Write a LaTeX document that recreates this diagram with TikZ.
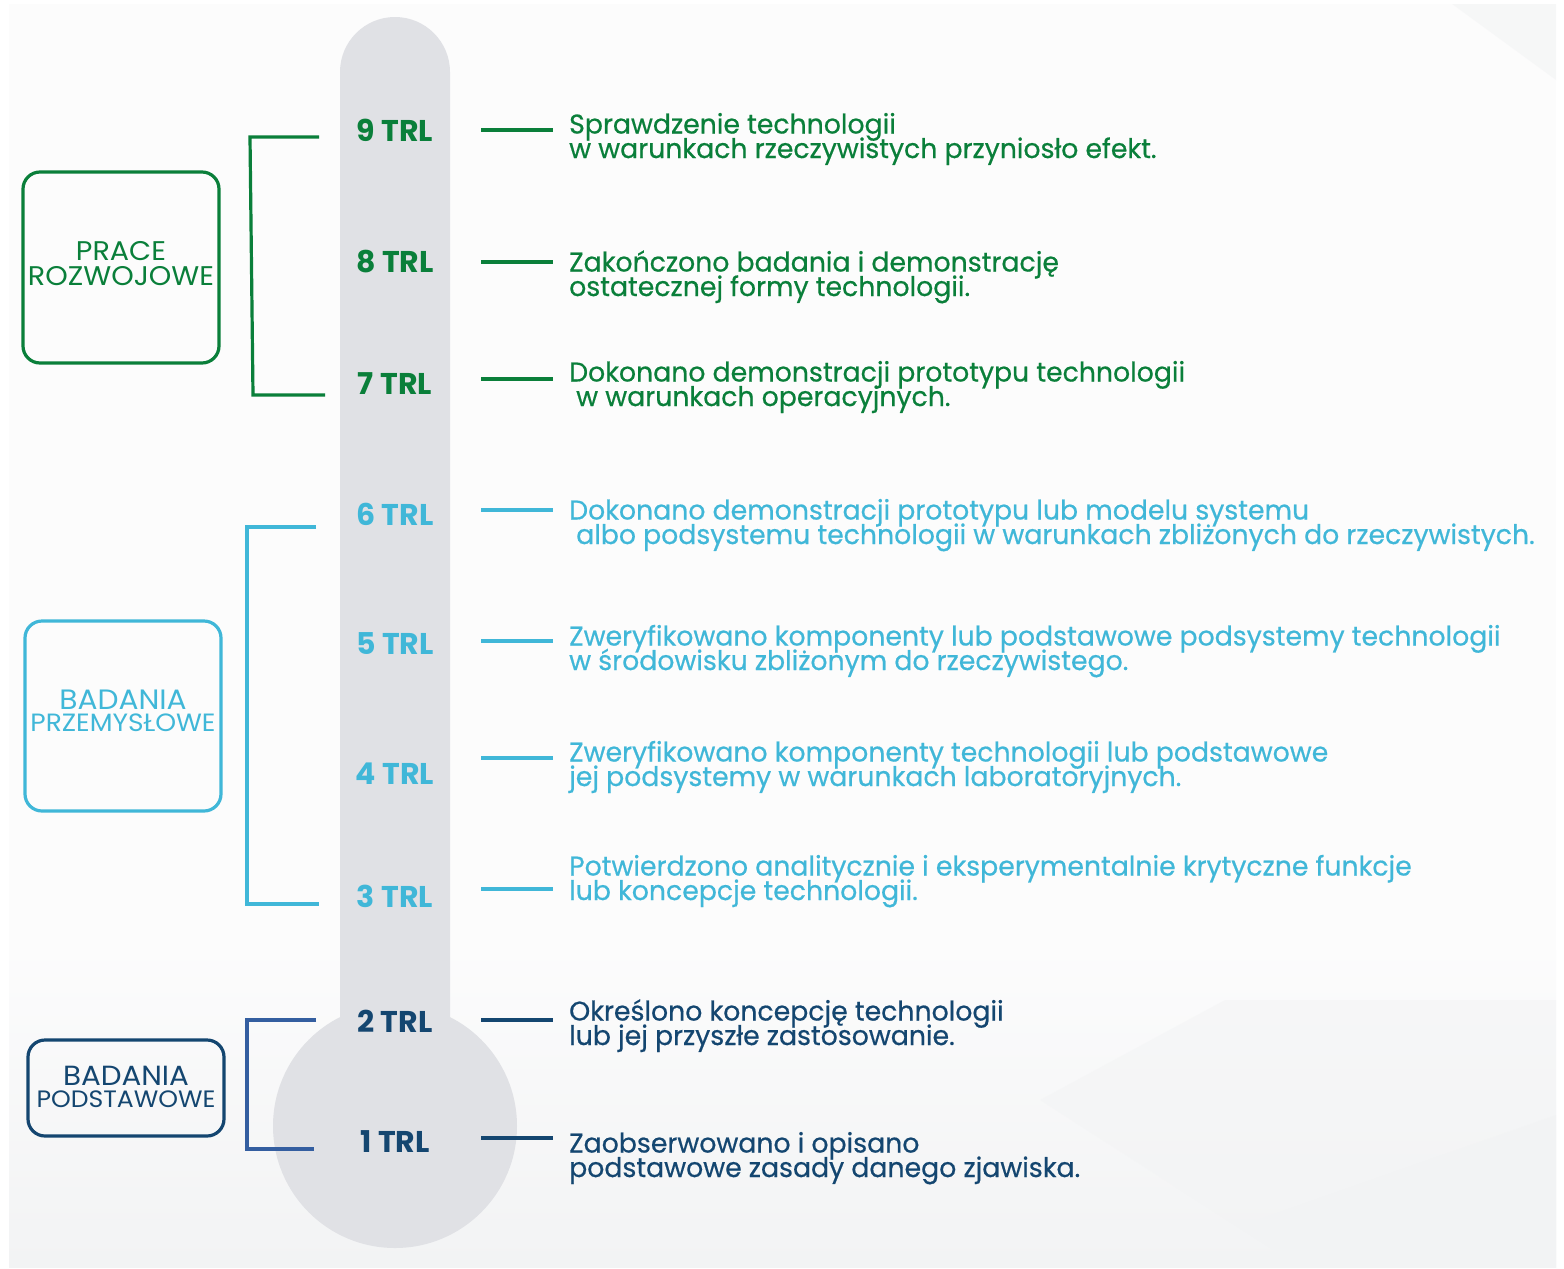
\documentclass[tikz,border=0pt]{standalone}
\usepackage{fontspec}
\setmainfont{Poppins}
\newfontfamily\descfont{Poppins}[FakeStretch=0.99, FakeBold=0.5]
\newfontfamily\boxfont{Poppins}[FakeStretch=1.06]
\usetikzlibrary{shapes.misc}
\definecolor{gr}{RGB}{10,127,58}
\definecolor{lb}{RGB}{64,183,216}
\definecolor{nv}{RGB}{20,70,112}
\definecolor{bb}{RGB}{52,94,160}
\definecolor{tube}{RGB}{224,225,229}
\definecolor{bgA}{RGB}{247,247,248}
\definecolor{bgB}{RGB}{242,243,244}
\newcommand{\tightlines}{\lineskiplimit=-50pt\lineskip=0pt}
\tikzset{
  trl/.style={font=\fontsize{30}{30}\selectfont\bfseries, inner sep=0pt, anchor=base},
  desc/.style={font=\descfont\fontsize{27}{24.5}\selectfont\tightlines, inner sep=0pt, align=left, anchor=base west},
  conn/.style={line width=3.5pt},
  brk/.style={line width=3.2pt},
  catbox/.style={draw, line width=3.2pt, rounded corners=17pt, inner sep=0pt},
  cattext/.style={inner sep=0pt, align=center}
}
\begin{document}
\begin{tikzpicture}[x=1pt,y=-1pt]
\useasboundingbox (0,0) rectangle (1564,1269);
% background
\fill[white] (0,0) rectangle (1564,1269);
\fill[white!60!bgA] (9,4) rectangle (1556,1267);
\shade[top color=white!60!bgA, bottom color=bgB] (9,950) rectangle (1556,1267);
\fill[bgB, opacity=0.5] (1452,4) -- (1556,4) -- (1556,80) -- cycle;
\fill[bgB, opacity=0.45] (1225,1000) -- (1556,1000) -- (1556,1267) -- (1300,1267) -- (1040,1100) -- cycle;
\fill[bgB, opacity=0.6] (1246,1224) -- (1556,1115) -- (1556,1267) -- (1300,1267) -- cycle;
% thermometer
\fill[tube, rounded corners=55pt] (340,1100) -- (340,17) -- (450,17) -- (450,1100) -- cycle;
\fill[tube] (395,1126) circle[radius=122];
% TRL labels
\node[trl, text=gr] (t9) at (395,141) {9 TRL};
\node[trl, text=gr] (t8) at (395,272) {8 TRL};
\node[trl, text=gr] (t7) at (395,394) {7 TRL};
\node[trl, text=lb] (t6) at (395,525) {6 TRL};
\node[trl, text=lb] (t5) at (395,654) {5 TRL};
\node[trl, text=lb] (t4) at (395,784) {4 TRL};
\node[trl, text=lb] (t3) at (395,907) {3 TRL};
\node[trl, text=nv] (t2) at (395,1032) {2 TRL};
\node[trl, text=nv] (t1) at (395,1152) {1 TRL};
% descriptions (anchored at the baseline of the last line)
\node[desc, text=gr] (d9) at (569,158) {Sprawdzenie technologii\\w warunkach rzeczywistych przyniosło efekt.};
\node[desc, text=gr] (d8) at (569,296) {Zakończono badania i demonstrację\\ostatecznej formy technologii.};
\node[desc, text=gr] (d7) at (569,406) {Dokonano demonstracji prototypu technologii\\\hspace*{7pt}w warunkach operacyjnych.};
\node[desc, text=lb] (d6) at (569,544) {Dokonano demonstracji prototypu lub modelu systemu\\\hspace*{7pt}albo podsystemu technologii w warunkach zbliżonych do rzeczywistych.};
\node[desc, text=lb] (d5) at (569,670) {Zweryfikowano komponenty lub podstawowe podsystemy technologii\\w środowisku zbliżonym do rzeczywistego.};
\node[desc, text=lb] (d4) at (569,786) {Zweryfikowano komponenty technologii lub podstawowe\\jej podsystemy w warunkach laboratoryjnych.};
\node[desc, text=lb] (d3) at (569,900) {Potwierdzono analitycznie i eksperymentalnie krytyczne funkcje\\lub koncepcje technologii.};
\node[desc, text=nv] (d2) at (569,1045) {Określono koncepcję technologii\\lub jej przyszłe zastosowanie.};
\node[desc, text=nv] (d1) at (569,1177) {Zaobserwowano i opisano\\podstawowe zasady danego zjawiska.};
% connectors
\foreach \n/\yy/\cc/\ww in {9/130/gr/4,8/262/gr/4,7/379/gr/4,6/510/lb/3.2,5/641/lb/3.2,4/758/lb/3.2,3/889/lb/3.2,2/1020/nv/3.6,1/1138/nv/3.6}{
  \coordinate (a\n) at (481,\yy);
  \coordinate (b\n) at (553,\yy);
  \draw[conn, draw=\cc, line width=\ww pt] (a\n) -- (b\n);
}
% brackets
\coordinate (g1) at (319,137); \coordinate (g2) at (250,137);
\coordinate (g3) at (253,395); \coordinate (g4) at (325,395);
\draw[brk, draw=gr] (g1) -- (g2) -- (g3) -- (g4);
\coordinate (l1) at (316,527); \coordinate (l2) at (247,527);
\coordinate (l3) at (247,904); \coordinate (l4) at (319,904);
\draw[brk, draw=lb] (l1) -- (l2) -- (l3) -- (l4);
\coordinate (n1) at (316,1020); \coordinate (n2) at (247,1020);
\coordinate (n3) at (247,1149); \coordinate (n4) at (314,1149);
\draw[brk, draw=bb] (n1) -- (n2) -- (n3) -- (n4);
% category boxes
\node[catbox, draw=gr, minimum width=196pt, minimum height=191pt] (bx1) at (121,267.5) {};
\node[cattext, text=gr, font=\boxfont\fontsize{27}{25}\selectfont\tightlines] (lx1) at (121,264) {PRACE\\ROZWOJOWE};
\node[catbox, draw=lb, minimum width=196pt, minimum height=190pt] (bx2) at (123,716) {};
\node[cattext, text=lb, font=\boxfont\fontsize{25}{22.5}\selectfont\tightlines] (lx2) at (123,711) {{\fontsize{28}{22.5}\selectfont BADANIA}\\PRZEMYSŁOWE};
\node[catbox, draw=nv, minimum width=196pt, minimum height=96pt] (bx3) at (126,1088) {};
\node[cattext, text=nv, font=\boxfont\fontsize{23.7}{22}\selectfont\tightlines] (lx3) at (126,1087) {{\fontsize{27.7}{22}\selectfont BADANIA}\\PODSTAWOWE};
\end{tikzpicture}
\end{document}
